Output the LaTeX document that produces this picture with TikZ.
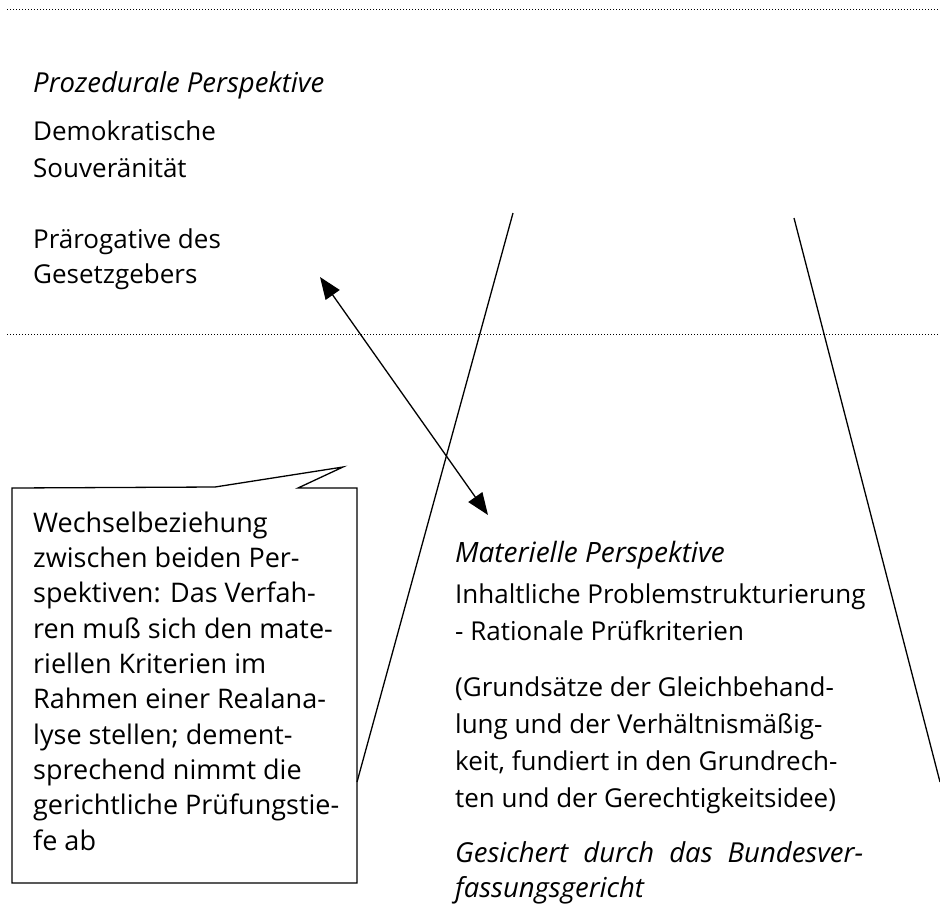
\documentclass[tikz,border=0pt]{standalone}
\usepackage{fontspec}
\setmainfont{Open Sans}
\usetikzlibrary{arrows.meta}
\tikzset{
  txt/.style={anchor=base west, inner sep=0pt, align=left, font=\fontsize{26}{36.5}\selectfont},
  ital/.style={txt, font=\fontsize{27.5}{36.5}\selectfont\itshape},
  dotline/.style={line width=1pt, dash pattern=on 1pt off 2pt},
  stroke/.style={line width=1.3pt},
  dblarrow/.style={line width=1.3pt, {Triangle[length=22pt,width=17pt]}-{Triangle[length=22pt,width=17pt]}},
}
\begin{document}
\begin{tikzpicture}[x=1pt,y=-1pt]
\useasboundingbox (0,0) rectangle (940,903);
% separators
\coordinate (d1a) at (7,9); \coordinate (d1b) at (940,9);
\coordinate (d2a) at (7,334); \coordinate (d2b) at (940,334);
\draw[dotline] (d1a) -- (d1b);
\draw[dotline] (d2a) -- (d2b);
% procedural perspective (multi-line nodes: base anchor = last baseline)
\node[ital] (proz) at (33,92) {Prozedurale Perspektive};
\node[txt] (demo) at (33,177) {Demokratische\\Souveränität};
\node[txt, font=\fontsize{26}{35}\selectfont] (praer) at (33,283) {Prärogative des\\Gesetzgebers};
% V lines
\coordinate (vl1) at (513,213); \coordinate (vl2) at (357,782);
\coordinate (vr1) at (794,218); \coordinate (vr2) at (940,782);
\draw[stroke] (vl1) -- (vl2);
\draw[stroke] (vr1) -- (vr2);
% double arrow
\coordinate (a1) at (320,277); \coordinate (a2) at (488,515);
\draw[dblarrow] (a1) -- (a2);
% callout
\coordinate (c1) at (12,488); \coordinate (c2) at (215,487);
\coordinate (ctip) at (343,467); \coordinate (c3) at (298,488);
\coordinate (c4) at (357,488); \coordinate (c5) at (357,883);
\coordinate (c6) at (12,883);
\draw[stroke, line join=miter] (c1) -- (c2) -- (ctip) -- (c3) -- (c4) -- (c5) -- (c6) -- cycle;
\node[txt, font=\fontsize{27}{35.3}\selectfont] (wech) at (33,850) {Wechselbeziehung\\zwischen beiden Per-\\spektiven: Das Verfah-\\ren muß sich den mate-\\riellen Kriterien im\\Rahmen einer Realana-\\lyse stellen; dement-\\sprechend nimmt die\\gerichtliche Prüfungstie-\\fe ab};
% material perspective
\node[ital, font=\fontsize{28}{36.5}\selectfont\itshape] (mat) at (455,562) {Materielle Perspektive};
\node[txt, font=\fontsize{26}{37}\selectfont] (inh) at (455,640) {Inhaltliche Problemstrukturierung\\- Rationale Prüfkriterien};
\node[txt, font=\fontsize{26}{36.7}\selectfont] (grund) at (455,807) {(Grundsätze der Gleichbehand-\\lung und der Verhältnismäßig-\\keit, fundiert in den Grundrech-\\ten und der Gerechtigkeitsidee)};
\node[ital, font=\fontsize{27.5}{35}\selectfont\itshape] (ges) at (455,897) {\makebox[408pt][s]{Gesichert durch das Bundesver-}\\fassungsgericht};
\end{tikzpicture}
\end{document}
